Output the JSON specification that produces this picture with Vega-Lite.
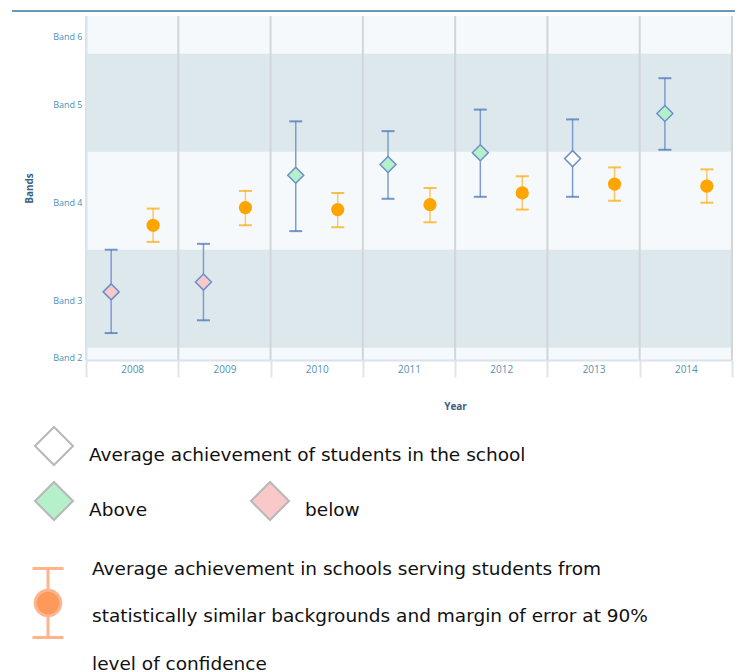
{
  "$schema": "https://vega.github.io/schema/vega-lite/v6.json",
  "background": "white",
  "padding": {"left": 11, "top": 10, "right": 0, "bottom": 0},
  "columns": 1,
  "align": "none",
  "spacing": 3,
  "config": {"view": {"stroke": null}},
  "datasets": {
    "results": [
      {"year": "2008", "series": "school", "mean": 3.07, "lo": 2.65, "hi": 3.50, "status": "below"},
      {"year": "2009", "series": "school", "mean": 3.17, "lo": 2.78, "hi": 3.56, "status": "below"},
      {"year": "2010", "series": "school", "mean": 4.26, "lo": 3.69, "hi": 4.81, "status": "Above"},
      {"year": "2011", "series": "school", "mean": 4.37, "lo": 4.02, "hi": 4.71, "status": "Above"},
      {"year": "2012", "series": "school", "mean": 4.49, "lo": 4.04, "hi": 4.93, "status": "Above"},
      {"year": "2013", "series": "school", "mean": 4.43, "lo": 4.04, "hi": 4.83, "status": "Average"},
      {"year": "2014", "series": "school", "mean": 4.89, "lo": 4.52, "hi": 5.25, "status": "Above"},
      {"year": "2008", "series": "similar", "mean": 3.75, "lo": 3.58, "hi": 3.92},
      {"year": "2009", "series": "similar", "mean": 3.93, "lo": 3.75, "hi": 4.10},
      {"year": "2010", "series": "similar", "mean": 3.91, "lo": 3.73, "hi": 4.08},
      {"year": "2011", "series": "similar", "mean": 3.96, "lo": 3.78, "hi": 4.13},
      {"year": "2012", "series": "similar", "mean": 4.08, "lo": 3.91, "hi": 4.25},
      {"year": "2013", "series": "similar", "mean": 4.17, "lo": 4.00, "hi": 4.34},
      {"year": "2014", "series": "similar", "mean": 4.15, "lo": 3.98, "hi": 4.32}
    ],
    "bands": [
      {"lo": 4.5, "hi": 5.5},
      {"lo": 2.5, "hi": 3.5}
    ]
  },
  "concat": [
    {
      "width": 646,
      "height": 1,
      "data": {"values": [{}]},
      "mark": {"type": "rule", "color": "#3a74a0", "strokeWidth": 1.5},
      "encoding": {
        "x": {"datum": 0, "type": "quantitative", "scale": {"domain": [0, 1], "range": [-74, 649]}, "axis": null},
        "x2": {"datum": 1},
        "y": {"value": 0}
      }
    },
    {
      "width": 646,
      "height": 344,
      "view": {"fill": "#f6f9fb", "stroke": null},
      "layer": [
        {
          "data": {"name": "bands"},
          "mark": {"type": "rect", "color": "#dde8ec"},
          "encoding": {
            "y": {
              "field": "lo", "type": "quantitative",
              "scale": {"domain": [2.375, 5.885], "nice": false, "zero": false},
              "axis": {
                "title": "Bands", "titleX": -57, "titleY": 172, "titleAngle": -90,
                "titleBaseline": "middle", "titleAlign": "center",
                "titleFont": "Open Sans", "titleFontSize": 10, "titleFontWeight": "bold", "titleColor": "#3d5e84",
                "values": [2.405, 2.98, 3.98, 4.98, 5.68],
                "labelExpr": "'Band ' + floor(datum.value + 0.5)",
                "labelFont": "Open Sans", "labelFontSize": 9, "labelColor": "#4a92b8",
                "labelPadding": 4, "labelFlush": false, "labelOverlap": false,
                "ticks": false, "grid": false,
                "domainColor": "#dae3ec", "domainWidth": 2
              }
            },
            "y2": {"field": "hi"}
          }
        },
        {
          "data": {"name": "results"},
          "transform": [{"filter": "datum.series === 'school'"}],
          "mark": {"type": "rule", "strokeWidth": 2},
          "encoding": {
            "x": {
              "field": "year", "type": "ordinal", "bandPosition": 0,
              "scale": {"type": "band", "paddingInner": 0, "paddingOuter": 0},
              "axis": {
                "title": "Year", "titleX": 369, "titleY": 41, "titleBaseline": "top", "titleAlign": "center",
                "titleFont": "Open Sans", "titleFontSize": 10, "titleFontWeight": "bold", "titleColor": "#3d5e84",
                "labelFont": "Open Sans", "labelFontSize": 10, "labelColor": "#5590b3", "labelAngle": 0,
                "labelPadding": -13,
                "tickBand": "extent", "ticks": true, "tickSize": 17, "tickColor": "#dde5ee", "tickWidth": 2,
                "domainColor": "#dae3ec", "domainWidth": 2, "grid": false
              }
            },
            "color": {"condition": {"test": "datum.year === '2008'", "value": "#d9e3ec"}, "value": "#d2d6d9"}
          }
        },
        {
          "data": {"name": "results"},
          "transform": [{"filter": "datum.series === 'school' && datum.year === '2014'"}],
          "mark": {"type": "rule", "strokeWidth": 2, "color": "#d2d6d9"},
          "encoding": {
            "x": {"field": "year", "type": "ordinal", "bandPosition": 1}
          }
        },
        {
          "data": {"name": "results"},
          "transform": [{"filter": "datum.series === 'school'"}],
          "mark": {"type": "rule", "strokeWidth": 1.5, "color": "#7b9dd4"},
          "encoding": {
            "x": {"field": "year", "type": "ordinal"},
            "xOffset": {"field": "series", "type": "nominal", "scale": {"domain": ["school", "similar"], "paddingInner": 0.2, "paddingOuter": 0.2}},
            "y": {"field": "lo", "type": "quantitative"},
            "y2": {"field": "hi"}
          }
        },
        {
          "data": {"name": "results"},
          "transform": [{"filter": "datum.series === 'similar'"}],
          "mark": {"type": "rule", "strokeWidth": 1.5, "color": "#fdc56c"},
          "encoding": {
            "x": {"field": "year", "type": "ordinal"},
            "xOffset": {"field": "series", "type": "nominal"},
            "y": {"field": "lo", "type": "quantitative"},
            "y2": {"field": "hi"},
            "opacity": {
              "field": "series", "type": "nominal",
              "scale": {"type": "ordinal", "domain": ["similar"], "range": [1]},
              "legend": {
                "orient": "none", "legendX": -74, "legendY": 548.5,
                "title": ["Average achievement in schools serving students from", "statistically similar backgrounds and margin of error at 90%", "level of confidence"],
                "titleOrient": "right", "titleAnchor": "start", "titleBaseline": "top", "titleAlign": "left",
                "titleFont": "DejaVu Sans", "titleFontSize": 18.5, "titleFontWeight": "normal", "titleColor": "#111111",
                "titleLineHeight": 47.5, "titlePadding": 8, "titleLimit": 1000,
                "labelExpr": "''", "labelOffset": 0,
                "symbolType": "M-0.45,-0.783H0.45M0,-0.783V-0.153M0,0.587V1.217M-0.45,1.217H0.45M0.37,0.217A0.37,0.37 0 1 1 -0.37,0.217A0.37,0.37 0 1 1 0.37,0.217Z",
                "symbolSize": 4761,
                "symbolFillColor": "#fd9a5b", "symbolStrokeColor": "#ffb48c", "symbolStrokeWidth": 3, "symbolOpacity": 1
              }
            }
          }
        },
        {
          "data": {"name": "results"},
          "mark": {"type": "tick", "thickness": 2, "size": 13},
          "encoding": {
            "x": {"field": "year", "type": "ordinal"},
            "xOffset": {"field": "series", "type": "nominal"},
            "y": {"field": "lo", "type": "quantitative"},
            "color": {"condition": {"test": "datum.series === 'school'", "value": "#3f6db5"}, "value": "#fba900"}
          }
        },
        {
          "data": {"name": "results"},
          "mark": {"type": "tick", "thickness": 2, "size": 13},
          "encoding": {
            "x": {"field": "year", "type": "ordinal"},
            "xOffset": {"field": "series", "type": "nominal"},
            "y": {"field": "hi", "type": "quantitative"},
            "color": {"condition": {"test": "datum.series === 'school'", "value": "#3f6db5"}, "value": "#fba900"}
          }
        },
        {
          "data": {"name": "results"},
          "transform": [{"filter": "datum.series === 'school'"}],
          "mark": {"type": "point", "filled": true, "size": 256, "stroke": "#6d8fca", "strokeWidth": 1.5, "opacity": 1},
          "encoding": {
            "x": {"field": "year", "type": "ordinal"},
            "xOffset": {"field": "series", "type": "nominal"},
            "y": {"field": "mean", "type": "quantitative"},
            "fill": {
              "field": "status", "type": "nominal",
              "scale": {"domain": ["Average", "Above", "below"], "range": ["#ffffff", "#b4f0ca", "#f9c8c8"]},
              "legend": {
                "orient": "none", "legendX": -52, "legendY": 470, "title": null,
                "values": ["Above", "below"], "direction": "horizontal", "columnPadding": 99,
                "symbolType": "diamond", "symbolSize": 1444, "symbolStrokeColor": "#b8b8b8", "symbolStrokeWidth": 2,
                "labelFont": "DejaVu Sans", "labelFontSize": 18.5, "labelColor": "#111111", "labelBaseline": "top",
                "labelOffset": 15, "labelLimit": 700
              }
            },
            "shape": {
              "field": "series", "type": "nominal",
              "scale": {"domain": ["school"], "range": ["diamond"]},
              "legend": {
                "orient": "none", "legendX": -52, "legendY": 415, "title": null,
                "labelExpr": "'Average achievement of students in the school'",
                "symbolSize": 1444, "symbolFillColor": "#ffffff", "symbolStrokeColor": "#b8b8b8", "symbolStrokeWidth": 2,
                "labelFont": "DejaVu Sans", "labelFontSize": 18.5, "labelColor": "#111111", "labelBaseline": "top",
                "labelOffset": 15, "labelLimit": 700
              }
            }
          }
        },
        {
          "data": {"name": "results"},
          "transform": [{"filter": "datum.series === 'similar'"}],
          "mark": {"type": "circle", "color": "#ffa500", "size": 175, "opacity": 1},
          "encoding": {
            "x": {"field": "year", "type": "ordinal"},
            "xOffset": {"field": "series", "type": "nominal"},
            "y": {"field": "mean", "type": "quantitative"}
          }
        }
      ]
    }
  ]
}
